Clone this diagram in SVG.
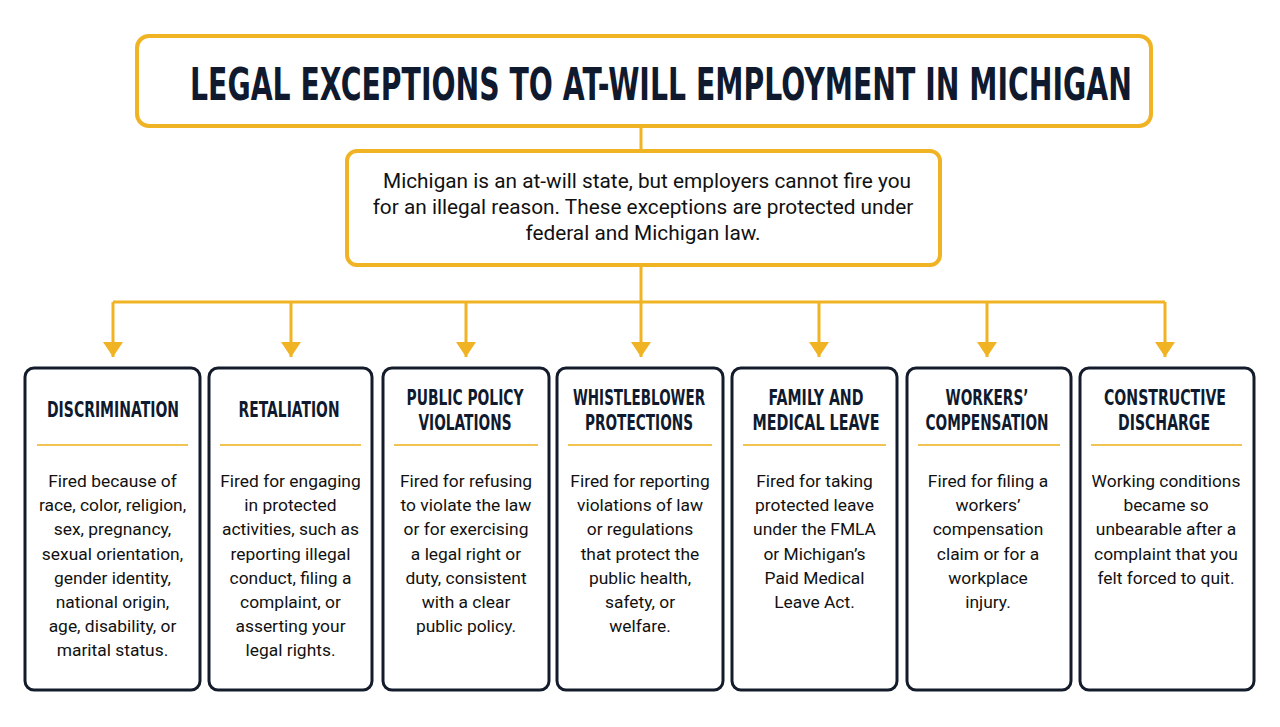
<svg xmlns="http://www.w3.org/2000/svg" width="1280" height="727" viewBox="0 0 1280 727">
<style>
.gold{fill:#fff;stroke:#F0B323;stroke-width:4}
.card{fill:#fff;stroke:#141c2c;stroke-width:3}
.sep{stroke:#EFC453;stroke-width:2}
.conn{fill:none;stroke:#F0B323;stroke-width:3}
.title{font-family:"DejaVu Sans",sans-serif;font-weight:bold;font-size:44px;fill:#0f1a2e}
.head{font-family:"DejaVu Sans",sans-serif;font-weight:bold;font-size:22px;fill:#0f1a2e;text-anchor:middle}
.sub{font-family:Roboto,"Liberation Sans",sans-serif;font-size:20.8px;fill:#111;text-anchor:middle}
.body{font-family:Roboto,"Liberation Sans",sans-serif;font-size:17.4px;fill:#111;text-anchor:middle}
</style>
<defs>
<marker id="ah" viewBox="0 0 15 20" refX="15" refY="10" markerWidth="15" markerHeight="20" markerUnits="userSpaceOnUse" orient="auto">
<path d="M0,0 L15,10 L0,20 Z" fill="#F0B323"/>
</marker>
</defs>
<rect width="1280" height="727" fill="#fff"/>
<g id="connectors">
<line class="conn" x1="641" y1="126" x2="641" y2="151"/>
<line class="conn" x1="641" y1="265" x2="641" y2="302"/>
<line class="conn" x1="113" y1="302" x2="1165" y2="302"/>
<line class="conn" x1="113" y1="302" x2="113" y2="357" marker-end="url(#ah)"/>
<line class="conn" x1="291" y1="302" x2="291" y2="357" marker-end="url(#ah)"/>
<line class="conn" x1="466" y1="302" x2="466" y2="357" marker-end="url(#ah)"/>
<line class="conn" x1="641" y1="302" x2="641" y2="357" marker-end="url(#ah)"/>
<line class="conn" x1="819" y1="302" x2="819" y2="357" marker-end="url(#ah)"/>
<line class="conn" x1="987" y1="302" x2="987" y2="357" marker-end="url(#ah)"/>
<line class="conn" x1="1165" y1="302" x2="1165" y2="357" marker-end="url(#ah)"/>
</g>
<g id="title">
<rect class="gold" x="137" y="36" width="1014" height="90" rx="12"/>
<text class="title" x="190" y="100" textLength="942" lengthAdjust="spacingAndGlyphs">LEGAL EXCEPTIONS TO AT-WILL EMPLOYMENT IN MICHIGAN</text>
</g>
<g id="intro">
<rect class="gold" x="347" y="151" width="593" height="114" rx="10"/>
<text class="sub" x="647" y="188">Michigan is an at-will state, but employers cannot fire you</text>
<text class="sub" x="643" y="214">for an illegal reason. These exceptions are protected under</text>
<text class="sub" x="643" y="240">federal and Michigan law.</text>
</g>
<g id="discrimination">
<rect class="card" x="25" y="368" width="175" height="322" rx="9"/>
<text class="head" x="113" y="417" textLength="132" lengthAdjust="spacingAndGlyphs">DISCRIMINATION</text>
<line class="sep" x1="37" y1="445" x2="188" y2="445"/>
<text class="body"><tspan x="112.5" y="487">Fired because of</tspan><tspan x="112.5" y="511">race, color, religion,</tspan><tspan x="112.5" y="535">sex, pregnancy,</tspan><tspan x="112.5" y="560">sexual orientation,</tspan><tspan x="112.5" y="584">gender identity,</tspan><tspan x="112.5" y="608">national origin,</tspan><tspan x="112.5" y="632">age, disability, or</tspan><tspan x="112.5" y="656">marital status.</tspan></text>
</g>
<g id="retaliation">
<rect class="card" x="209" y="368" width="163" height="322" rx="9"/>
<text class="head" x="289" y="417" textLength="101" lengthAdjust="spacingAndGlyphs">RETALIATION</text>
<line class="sep" x1="220" y1="445" x2="361" y2="445"/>
<text class="body"><tspan x="290.5" y="487">Fired for engaging</tspan><tspan x="290.5" y="511">in protected</tspan><tspan x="290.5" y="535">activities, such as</tspan><tspan x="290.5" y="560">reporting illegal</tspan><tspan x="290.5" y="584">conduct, filing a</tspan><tspan x="290.5" y="608">complaint, or</tspan><tspan x="290.5" y="632">asserting your</tspan><tspan x="290.5" y="656">legal rights.</tspan></text>
</g>
<g id="public-policy">
<rect class="card" x="383" y="368" width="166" height="322" rx="9"/>
<text class="head" x="465" y="405" textLength="117" lengthAdjust="spacingAndGlyphs">PUBLIC POLICY</text>
<text class="head" x="465" y="430" textLength="93" lengthAdjust="spacingAndGlyphs">VIOLATIONS</text>
<line class="sep" x1="394" y1="445" x2="538" y2="445"/>
<text class="body"><tspan x="466" y="487">Fired for refusing</tspan><tspan x="466" y="511">to violate the law</tspan><tspan x="466" y="535">or for exercising</tspan><tspan x="466" y="560">a legal right or</tspan><tspan x="466" y="584">duty, consistent</tspan><tspan x="466" y="608">with a clear</tspan><tspan x="466" y="632">public policy.</tspan></text>
</g>
<g id="whistleblower">
<rect class="card" x="557" y="368" width="166" height="322" rx="9"/>
<text class="head" x="639" y="405" textLength="132" lengthAdjust="spacingAndGlyphs">WHISTLEBLOWER</text>
<text class="head" x="639" y="430" textLength="108" lengthAdjust="spacingAndGlyphs">PROTECTIONS</text>
<line class="sep" x1="568" y1="445" x2="712" y2="445"/>
<text class="body"><tspan x="640" y="487">Fired for reporting</tspan><tspan x="640" y="511">violations of law</tspan><tspan x="640" y="535">or regulations</tspan><tspan x="640" y="560">that protect the</tspan><tspan x="640" y="584">public health,</tspan><tspan x="640" y="608">safety, or</tspan><tspan x="640" y="632">welfare.</tspan></text>
</g>
<g id="family-medical-leave">
<rect class="card" x="732" y="368" width="165" height="322" rx="9"/>
<text class="head" x="816" y="405" textLength="95" lengthAdjust="spacingAndGlyphs">FAMILY AND</text>
<text class="head" x="816" y="430" textLength="127" lengthAdjust="spacingAndGlyphs">MEDICAL LEAVE</text>
<line class="sep" x1="743" y1="445" x2="886" y2="445"/>
<text class="body"><tspan x="814.5" y="487">Fired for taking</tspan><tspan x="814.5" y="511">protected leave</tspan><tspan x="814.5" y="535">under the FMLA</tspan><tspan x="814.5" y="560">or Michigan’s</tspan><tspan x="814.5" y="584">Paid Medical</tspan><tspan x="814.5" y="608">Leave Act.</tspan></text>
</g>
<g id="workers-compensation">
<rect class="card" x="907" y="368" width="164" height="322" rx="9"/>
<text class="head" x="987" y="405" textLength="83" lengthAdjust="spacingAndGlyphs">WORKERS’</text>
<text class="head" x="987" y="430" textLength="123" lengthAdjust="spacingAndGlyphs">COMPENSATION</text>
<line class="sep" x1="918" y1="445" x2="1060" y2="445"/>
<text class="body"><tspan x="988" y="487">Fired for filing a</tspan><tspan x="988" y="511">workers’</tspan><tspan x="988" y="535">compensation</tspan><tspan x="988" y="560">claim or for a</tspan><tspan x="988" y="584">workplace</tspan><tspan x="988" y="608">injury.</tspan></text>
</g>
<g id="constructive-discharge">
<rect class="card" x="1080" y="368" width="174" height="322" rx="9"/>
<text class="head" x="1165" y="405" textLength="122" lengthAdjust="spacingAndGlyphs">CONSTRUCTIVE</text>
<text class="head" x="1164" y="430" textLength="92" lengthAdjust="spacingAndGlyphs">DISCHARGE</text>
<line class="sep" x1="1091" y1="445" x2="1242" y2="445"/>
<text class="body"><tspan x="1166" y="487">Working conditions</tspan><tspan x="1166" y="511">became so</tspan><tspan x="1166" y="535">unbearable after a</tspan><tspan x="1166" y="560">complaint that you</tspan><tspan x="1166" y="584">felt forced to quit.</tspan></text>
</g>
</svg>
